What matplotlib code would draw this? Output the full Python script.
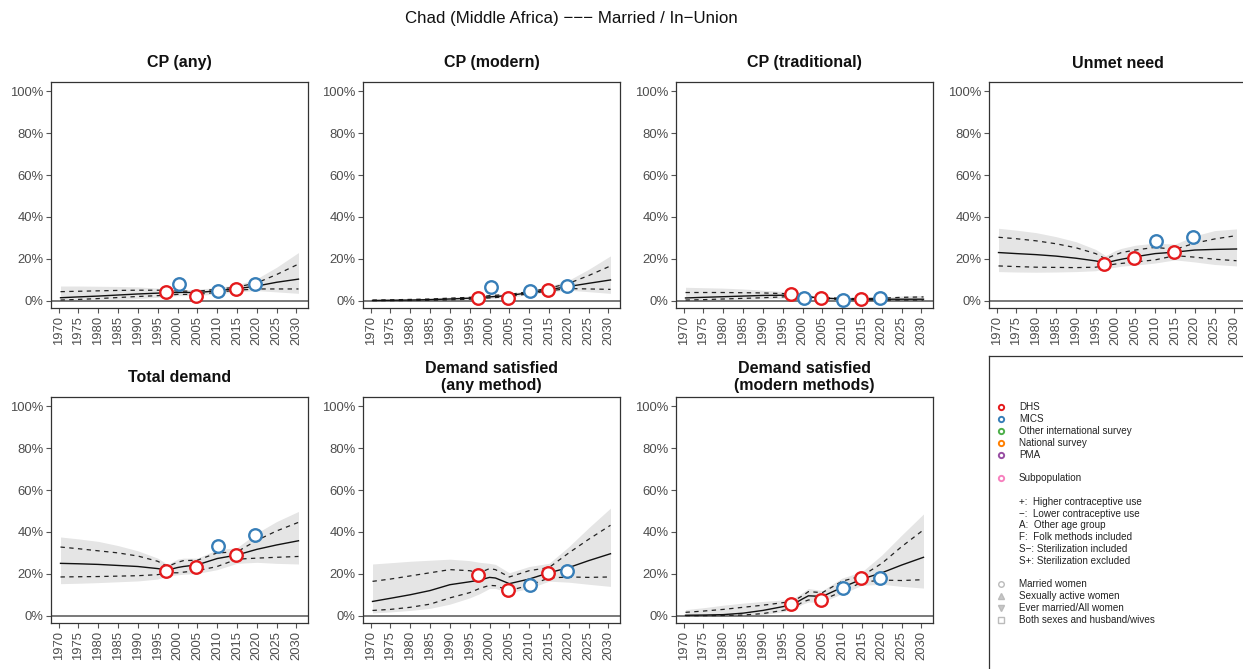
import numpy as np
import matplotlib
matplotlib.use('Agg')
import matplotlib.pyplot as plt

plt.rcParams['font.family'] = ['Liberation Sans', 'DejaVu Sans']

# ---------------- data ----------------
years = [1970.5, 1975, 1980, 1985, 1990, 1995, 1997.5, 2000, 2001.5, 2005, 2010, 2015, 2020, 2025, 2030.5]

dhs_years = [1997.0, 2004.7, 2014.8]
mics_years = [2000.3, 2010.2, 2019.5]

titles = ["CP (any)", "CP (modern)", "CP (traditional)", "Unmet need",
          "Total demand", "Demand satisfied\n(any method)", "Demand satisfied\n(modern methods)"]

# CP (any)
cpany_med = [1.4, 1.8, 2.2, 2.7, 3.2, 3.6, 3.8, 3.9, 4.0, 3.8, 4.8, 5.7, 7.0, 8.8, 10.3]
cpany_up80 = [4.3, 4.5, 4.7, 4.9, 5.0, 5.0, 4.9, 4.6, 4.6, 4.5, 5.5, 6.5, 8.5, 12.5, 17.5]
cpany_lo80 = [0.3, 0.6, 1.0, 1.5, 2.0, 2.4, 2.6, 3.0, 3.0, 3.0, 4.0, 5.0, 5.6, 5.6, 5.6]
cpany_up95 = [7.0, 7.0, 6.9, 6.8, 6.6, 6.0, 5.5, 5.2, 5.2, 5.5, 6.3, 7.5, 10.5, 16.0, 23.0]
cpany_lo95 = [0.0, 0.0, 0.2, 0.5, 1.0, 1.6, 2.0, 2.4, 2.4, 2.4, 3.3, 4.2, 4.8, 4.2, 3.5]
cpany_dhs = [4.0, 2.4, 5.6]
cpany_mics = [7.8, 4.8, 7.8]

# CP (modern)
cpmod_med = [0.1, 0.2, 0.3, 0.5, 0.8, 1.2, 1.5, 1.8, 2.0, 2.5, 3.8, 5.3, 6.8, 8.3, 9.9]
cpmod_up80 = [0.3, 0.4, 0.6, 0.8, 1.2, 1.6, 1.9, 2.4, 2.6, 3.0, 4.3, 6.0, 8.3, 12.0, 16.6]
cpmod_lo80 = [0.0, 0.0, 0.1, 0.2, 0.4, 0.7, 1.0, 1.3, 1.5, 2.0, 3.3, 4.7, 5.8, 5.6, 5.4]
cpmod_up95 = [0.5, 0.7, 1.0, 1.3, 1.7, 2.1, 2.3, 2.8, 3.0, 3.5, 5.0, 6.8, 9.8, 15.0, 21.4]
cpmod_lo95 = [0.0, 0.0, 0.0, 0.05, 0.2, 0.4, 0.7, 1.0, 1.2, 1.6, 2.9, 4.2, 5.0, 4.3, 3.5]
cpmod_dhs = [1.1, 1.4, 5.3]
cpmod_mics = [6.4, 4.8, 7.0]

# CP (traditional)
cptrad_med = [1.3, 1.6, 1.9, 2.2, 2.5, 2.6, 2.5, 2.0, 1.8, 1.3, 0.8, 0.7, 0.7, 0.7, 0.7]
cptrad_up80 = [3.9, 3.9, 3.9, 3.8, 3.7, 3.4, 3.0, 2.3, 2.1, 1.6, 1.1, 1.0, 1.2, 1.6, 1.8]
cptrad_lo80 = [0.3, 0.5, 0.8, 1.1, 1.4, 1.8, 2.0, 1.6, 1.5, 1.0, 0.5, 0.4, 0.3, 0.3, 0.3]
cptrad_up95 = [6.4, 6.2, 6.0, 5.6, 5.0, 4.4, 3.6, 2.8, 2.5, 2.0, 1.4, 1.3, 1.7, 2.2, 2.5]
cptrad_lo95 = [0.0, 0.0, 0.1, 0.4, 0.8, 1.2, 1.5, 1.2, 1.1, 0.7, 0.3, 0.2, 0.1, 0.1, 0.1]
cptrad_dhs = [3.2, 1.1, 0.8]
cptrad_mics = [1.4, 0.3, 1.1]

# Unmet need
unmet_med = [23.0, 22.5, 22.0, 21.3, 20.3, 19.0, 18.0, 19.2, 19.8, 21.0, 22.5, 23.2, 24.2, 24.5, 24.7]
unmet_up80 = [30.3, 29.6, 28.6, 27.2, 25.3, 22.5, 20.0, 22.0, 23.0, 24.2, 25.5, 24.5, 27.5, 29.5, 31.1]
unmet_lo80 = [16.6, 16.3, 16.0, 15.9, 15.8, 16.0, 16.8, 17.5, 17.8, 18.5, 19.5, 21.5, 20.8, 19.8, 19.1]
unmet_up95 = [34.6, 33.7, 32.5, 30.6, 28.2, 24.5, 21.5, 24.0, 25.0, 26.5, 27.5, 27.0, 31.0, 33.5, 34.3]
unmet_lo95 = [13.9, 13.7, 13.6, 13.7, 13.9, 14.3, 15.3, 16.0, 16.5, 17.0, 18.0, 19.5, 18.5, 17.3, 16.6]
unmet_dhs = [17.4, 20.6, 23.1]
unmet_mics = [np.nan, 28.5, 30.3]

# Total demand
tdem_med = [25.0, 24.8, 24.5, 24.0, 23.5, 22.5, 21.8, 23.0, 23.5, 24.3, 27.3, 29.0, 31.7, 33.8, 35.8]
tdem_up80 = [32.8, 32.0, 31.0, 30.0, 28.5, 26.0, 23.5, 25.5, 26.3, 26.5, 30.0, 30.5, 36.0, 40.5, 44.6]
tdem_lo80 = [18.5, 18.6, 18.7, 18.9, 19.1, 19.6, 20.5, 20.5, 20.8, 21.5, 23.5, 27.0, 27.5, 27.9, 28.3]
tdem_up95 = [37.6, 36.7, 35.5, 33.5, 31.0, 27.5, 24.5, 27.0, 27.5, 27.5, 31.5, 32.5, 39.5, 45.0, 49.8]
tdem_lo95 = [15.3, 15.5, 15.8, 16.2, 16.6, 17.5, 19.0, 19.5, 19.8, 20.2, 22.0, 25.0, 25.5, 25.0, 24.7]
tdem_dhs = [21.5, 23.2, 28.8]
tdem_mics = [np.nan, 33.4, 38.4]

# Demand satisfied (any method)
dsany_med = [6.8, 8.3, 10.0, 12.0, 14.8, 16.2, 17.0, 18.3, 18.0, 15.3, 17.5, 20.5, 23.0, 26.3, 29.6]
dsany_up80 = [16.4, 17.5, 19.0, 20.5, 22.0, 21.5, 20.5, 22.5, 22.0, 18.5, 21.5, 23.0, 30.0, 36.5, 43.2]
dsany_lo80 = [2.5, 3.0, 4.0, 5.5, 8.5, 11.0, 13.0, 14.5, 14.3, 12.0, 14.5, 18.0, 18.5, 18.3, 18.5]
dsany_up95 = [24.7, 25.3, 26.0, 26.5, 27.0, 26.3, 25.5, 25.0, 24.5, 20.5, 23.5, 25.0, 33.0, 42.0, 51.4]
dsany_lo95 = [1.3, 1.8, 2.5, 3.5, 5.5, 8.5, 10.5, 13.0, 13.0, 11.0, 13.0, 16.5, 16.0, 15.0, 14.0]
dsany_dhs = [19.3, 12.1, 20.4]
dsany_mics = [np.nan, 14.8, 21.2]

# Demand satisfied (modern methods)
dsmod_med = [0.2, 0.3, 0.5, 1.2, 2.5, 4.3, 5.3, 8.0, 9.5, 9.2, 13.5, 17.5, 20.5, 24.2, 27.9]
dsmod_up80 = [1.6, 2.2, 3.0, 4.0, 5.0, 6.2, 6.8, 9.5, 11.5, 11.0, 16.5, 19.0, 25.0, 33.0, 41.0]
dsmod_lo80 = [0.0, 0.0, 0.1, 0.3, 1.0, 2.5, 3.5, 6.5, 7.5, 7.5, 11.5, 16.0, 17.0, 16.8, 17.2]
dsmod_up95 = [2.9, 3.8, 5.0, 6.0, 6.8, 7.5, 8.0, 11.0, 13.0, 12.0, 18.0, 21.0, 29.0, 38.5, 48.6]
dsmod_lo95 = [0.0, 0.0, 0.0, 0.1, 0.5, 1.8, 3.0, 5.5, 6.5, 6.5, 10.5, 14.5, 15.0, 14.0, 13.2]
dsmod_dhs = [5.7, 7.3, 18.0]
dsmod_mics = [np.nan, 13.2, 18.0]

x_ticks = list(range(1970, 2031, 5))
y_ticks = [0, 20, 40, 60, 80, 100]
y_ticklabels = ["0%", "20%", "40%", "60%", "80%", "100%"]

legend_source_labels = ["DHS", "MICS", "Other international survey", "National survey", "PMA"]
legend_source_colors = ["#E41A1C", "#377EB8", "#4DAF4A", "#FF7F00", "#984EA3"]
legend_sub_label = "Subpopulation"
legend_sub_color = "#F781BF"
legend_notes = ["+:  Higher contraceptive use", "\u2212:  Lower contraceptive use",
                "A:  Other age group", "F:  Folk methods included",
                "S\u2212: Sterilization included", "S+: Sterilization excluded"]
legend_group_labels = ["Married women", "Sexually active women",
                       "Ever married/All women", "Both sexes and husband/wives"]
legend_group_markers = ["o", "^", "v", "s"]

main_title = "Chad (Middle Africa) \u2212\u2212\u2212 Married / In\u2212Union"

panels = [
    (cpany_med, cpany_up80, cpany_lo80, cpany_up95, cpany_lo95, cpany_dhs, cpany_mics),
    (cpmod_med, cpmod_up80, cpmod_lo80, cpmod_up95, cpmod_lo95, cpmod_dhs, cpmod_mics),
    (cptrad_med, cptrad_up80, cptrad_lo80, cptrad_up95, cptrad_lo95, cptrad_dhs, cptrad_mics),
    (unmet_med, unmet_up80, unmet_lo80, unmet_up95, unmet_lo95, unmet_dhs, unmet_mics),
    (tdem_med, tdem_up80, tdem_lo80, tdem_up95, tdem_lo95, tdem_dhs, tdem_mics),
    (dsany_med, dsany_up80, dsany_lo80, dsany_up95, dsany_lo95, dsany_dhs, dsany_mics),
    (dsmod_med, dsmod_up80, dsmod_lo80, dsmod_up95, dsmod_lo95, dsmod_dhs, dsmod_mics),
]

# ---------------- layout ----------------
W, H = 1243, 669
fig = plt.figure(figsize=(W / 100, H / 100), dpi=100)

col_left = [51, 363, 676, 989]
ax_w = 257
row_top = [82, 397]
ax_h = 226
title_center = [63, 377]

AX_COL = "#333333"
TICK_COL = "#4D4D4D"

for i, (med, up80, lo80, up95, lo95, dhs, mics) in enumerate(panels):
    r, c = divmod(i, 4)
    l = col_left[c]
    t = row_top[r]
    ax = fig.add_axes([l / W, 1 - (t + ax_h) / H, ax_w / W, ax_h / H])
    ax.fill_between(years, lo95, up95, color="#E5E5E5", lw=0, zorder=1)
    ax.axhline(0, color="#555555", lw=1.1, zorder=2)
    ax.plot(years, up80, color="#222222", lw=0.9, ls=(0, (3.5, 3.5)), zorder=3)
    ax.plot(years, lo80, color="#222222", lw=0.9, ls=(0, (3.5, 3.5)), zorder=3)
    ax.plot(years, med, color="#111111", lw=1.0, zorder=3)
    ax.plot(dhs_years, dhs, ls="none", marker="o", ms=9, mfc="white",
            mec="#E41A1C", mew=1.7, zorder=4)
    ax.plot(mics_years, mics, ls="none", marker="o", ms=9, mfc="white",
            mec="#377EB8", mew=1.7, zorder=4)
    ax.set_xlim(1968.1, 2032.9)
    ax.set_ylim(-3.5, 104.5)
    ax.set_xticks(x_ticks)
    ax.set_xticklabels([str(y) for y in x_ticks], rotation=90)
    ax.set_yticks(y_ticks)
    ax.set_yticklabels(y_ticklabels)
    ax.tick_params(axis="both", length=3.5, width=0.8, color="#555555",
                   labelsize=9.4, labelcolor=TICK_COL, pad=2)
    for sp in ax.spines.values():
        sp.set_color(AX_COL)
        sp.set_linewidth(0.9)
    fig.text((l + ax_w / 2) / W, 1 - title_center[r] / H, titles[i],
             ha="center", va="center", fontsize=11.5, fontweight="bold",
             linespacing=1.1, color="#111111")

# legend panel
lg_l, lg_t = 989, 356
lax = fig.add_axes([lg_l / W, 1 - 700 / H, 320 / W, (700 - lg_t) / H])
lax.set_xticks([])
lax.set_yticks([])
for sp in lax.spines.values():
    sp.set_color(AX_COL)
    sp.set_linewidth(0.9)

mk_x = 1001 / W
tx_x = 1019 / W
fs_leg = 7.1
src_y = [407, 419, 431, 443, 454.5]
for lab, col, yy in zip(legend_source_labels, legend_source_colors, src_y):
    fig.lines.append(plt.Line2D([mk_x], [1 - yy / H], transform=fig.transFigure,
                                marker="o", ms=3.8, mfc="white", mec=col, mew=1.4, ls="none"))
    fig.text(tx_x, 1 - yy / H, lab, ha="left", va="center", fontsize=fs_leg, color="#222222")

fig.lines.append(plt.Line2D([mk_x], [1 - 478 / H], transform=fig.transFigure,
                            marker="o", ms=3.8, mfc="white", mec=legend_sub_color, mew=1.4, ls="none"))
fig.text(tx_x, 1 - 478 / H, legend_sub_label, ha="left", va="center", fontsize=fs_leg, color="#222222")

note_y = [502, 514, 525.5, 537.5, 549, 561]
for lab, yy in zip(legend_notes, note_y):
    fig.text(tx_x, 1 - yy / H, lab, ha="left", va="center", fontsize=fs_leg, color="#222222")

grp_y = [584, 596, 608, 620]
for lab, mk, yy in zip(legend_group_labels, legend_group_markers, grp_y):
    filled = mk in ("^", "v")
    fig.lines.append(plt.Line2D([mk_x], [1 - yy / H], transform=fig.transFigure,
                                marker=mk, ms=4, mfc="#C8C8C8" if filled else "white",
                                mec="#BBBBBB", mew=1.0, ls="none"))
    fig.text(tx_x, 1 - yy / H, lab, ha="left", va="center", fontsize=fs_leg, color="#222222")

fig.text(571 / W, 1 - 18 / H, main_title, ha="center", va="center",
         fontsize=12.2, color="#111111")

fig.savefig("out.png", dpi=100)
